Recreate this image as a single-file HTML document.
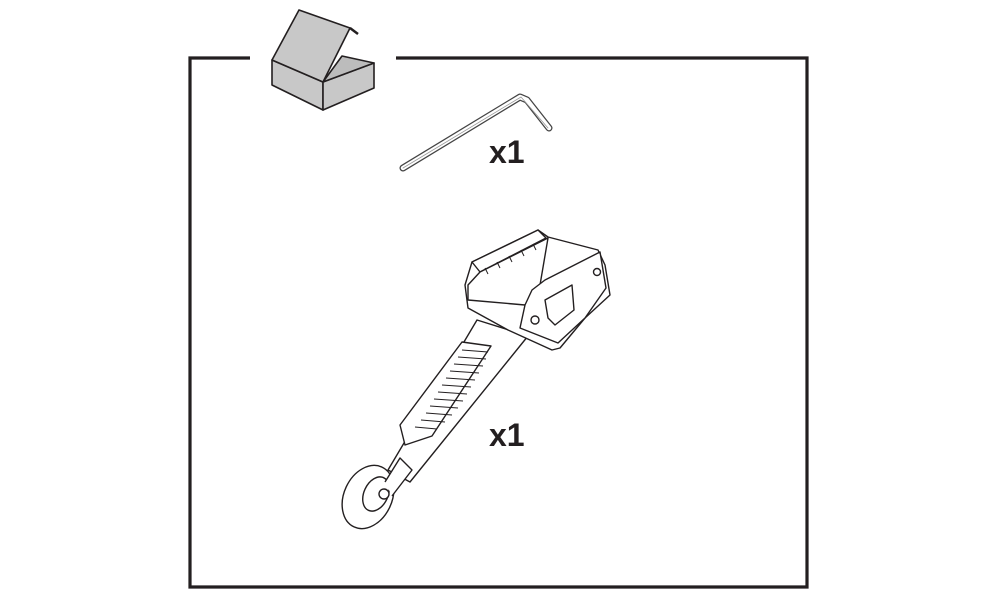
<!DOCTYPE html>
<html><head><style>
html,body{margin:0;padding:0;background:#fff;}
svg{display:block}
text{font-family:"Liberation Sans",sans-serif;font-weight:bold;fill:#231f20}
</style></head><body>
<svg width="1000" height="600" viewBox="0 0 1000 600" xmlns="http://www.w3.org/2000/svg">
<!-- frame -->
<path d="M250 58 H190 V587 H807 V58 H396" fill="none" stroke="#231f20" stroke-width="3.2"/>
<!-- box -->
<g stroke="#231f20" stroke-width="1.6" stroke-linejoin="round" fill="#c8c8c8">
<polygon points="272,60 272,85 323,110 323,82"/>
<polygon points="323,82 374,63 374,88 323,110"/>
<polygon points="323,82 342,56 374,63" fill="#bcbcbc"/>
<polygon points="272,60 299,10 350,28 323,82"/>
<polyline points="350,28 358,34" fill="none" stroke-width="2.5"/>
</g>
<!-- hex key -->
<g fill="none" stroke-linecap="round" stroke-linejoin="round">
<polyline points="403,168 520,97 527,100 549,128" stroke="#444" stroke-width="7"/>
<polyline points="403,168 520,97 527,100 549,128" stroke="#fff" stroke-width="4.5"/>
<polyline points="403,168 521,97 548,128" stroke="#999" stroke-width="0.8"/>
</g>
<text x="489" y="163" font-size="32">x1</text>
<!-- tool -->
<g stroke="#231f20" stroke-width="1.4" fill="#fff" stroke-linejoin="round">
<!-- handle -->
<polygon points="477,320 528,336 410,482 388,470"/>
<polygon points="462,342 491,346 432,436 405,445 400,425"/>
<g fill="none" stroke-width="1">
<path d="M462,350 l26,2"/><path d="M458,357 l28,2"/><path d="M454,364 l29,2"/><path d="M450,371 l29,2"/>
<path d="M446,378 l29,2"/><path d="M442,385 l29,2"/><path d="M438,392 l29,2"/><path d="M434,399 l29,2"/>
<path d="M430,406 l28,2"/><path d="M426,413 l26,2"/><path d="M421,420 l24,2"/><path d="M415,427 l22,2"/>
</g>
<!-- wheel -->
<ellipse cx="368" cy="497" rx="24" ry="33" transform="rotate(25 368 497)"/>
<ellipse cx="376" cy="494" rx="12" ry="18" transform="rotate(25 376 494)"/>
<circle cx="384" cy="494" r="5"/>
<path d="M385,482 L400,458 L412,470 L392,496" fill="#fff"/>
<!-- head -->
<polygon points="472,262 538,230 548,237 598,250 605,265 610,295 585,318 560,348 552,350 508,330 468,308 465,285"/>
<polygon points="472,262 538,230 546,238 480,272" fill="#fff"/>
<polygon points="468,285 480,272 548,238 540,285 525,305 468,300" fill="#fff"/>
<polygon points="525,305 532,290 545,280 600,252 606,288 585,318 558,343 520,328" fill="#fff"/>
<polygon points="545,300 572,285 574,310 555,325 548,318" fill="none"/>
<circle cx="597" cy="272" r="3.5"/><circle cx="535" cy="320" r="4"/>
<g fill="none" stroke-width="1"><path d="M485,268 l3,6"/><path d="M497,262 l3,6"/><path d="M509,256 l3,6"/><path d="M521,250 l3,6"/><path d="M533,244 l3,6"/></g>
</g>
<text x="489" y="446" font-size="32">x1</text>
</svg>
</body></html>
